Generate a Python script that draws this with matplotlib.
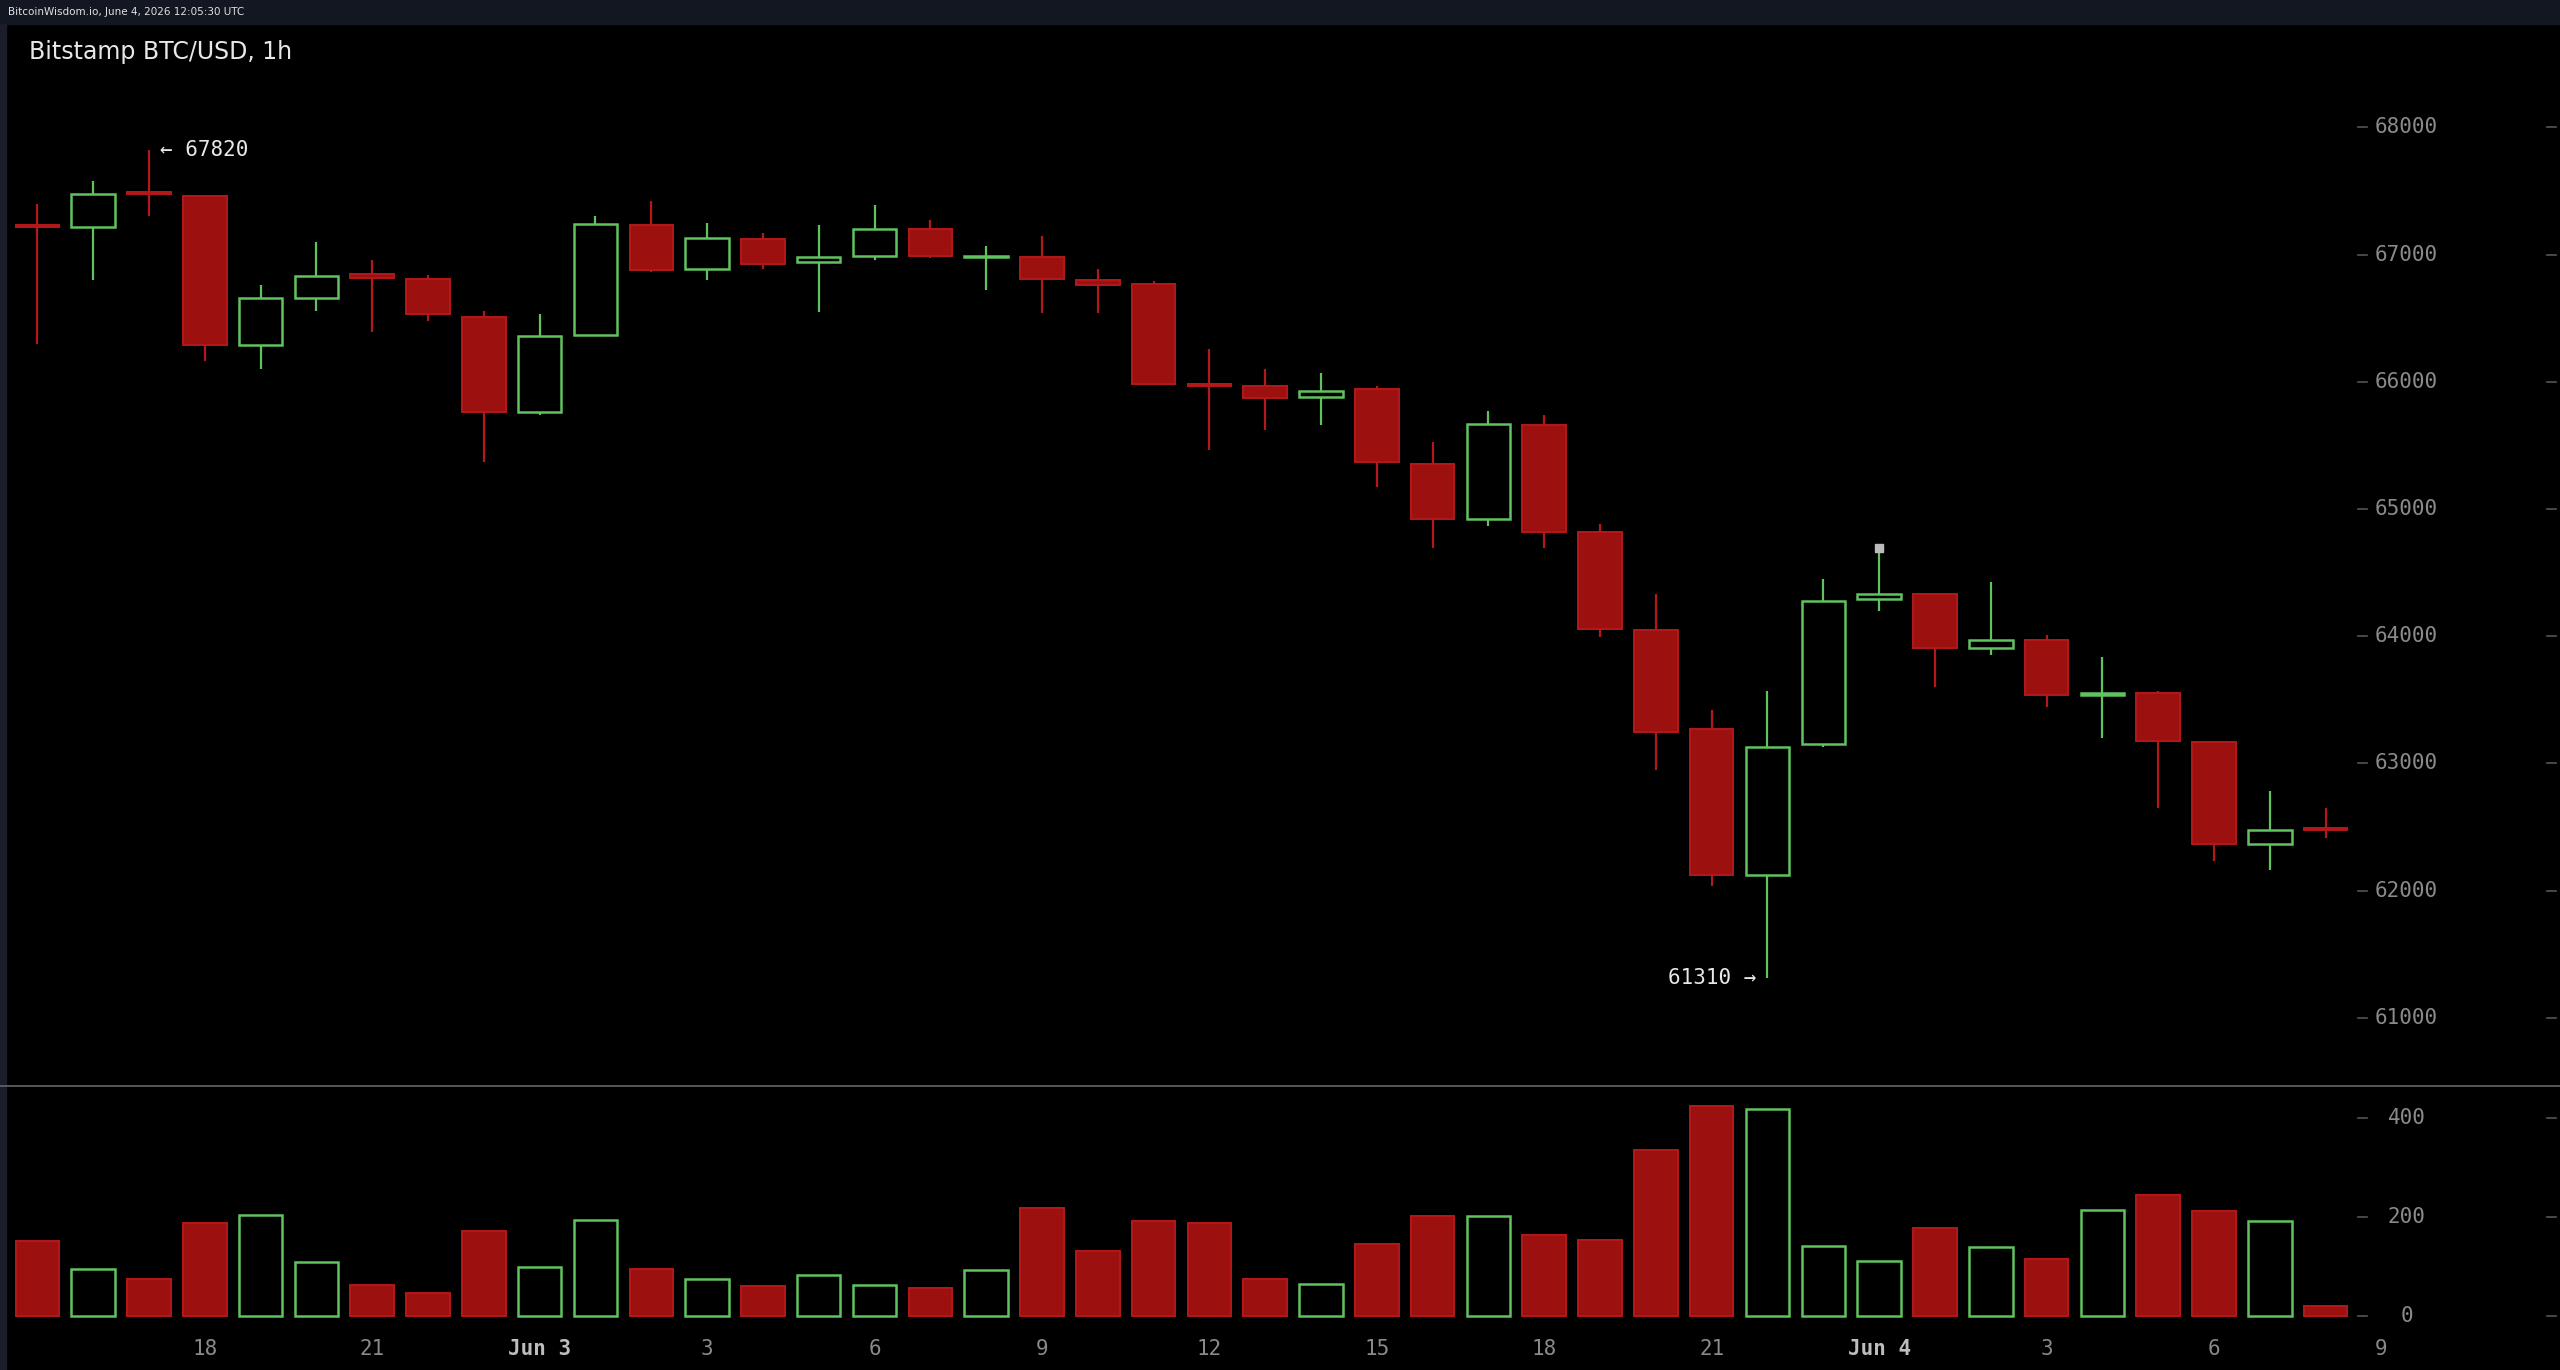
import matplotlib
matplotlib.use("Agg")
import matplotlib.pyplot as plt
from matplotlib.patches import Rectangle

opens  = [67220,67220,67480,67460,66290,66660,66850,66810,66510,65760,66370,67230,66890,67120,66940,66990,67200,66980,66980,66800,
          66770,65970,65970,65880,65940,65350,64920,65660,64820,64050,63270,62120,63150,64290,64330,63910,63970,63540,63550,63170,62370,62480]
closes = [67220,67480,67480,66290,66660,66830,66820,66530,65760,66360,67240,66880,67130,66930,66980,67200,66990,66980,66810,66760,
          65980,65970,65870,65930,65370,64920,65670,64820,64060,63250,62120,63130,64280,64330,63910,63970,63540,63540,63180,62370,62480,62480]
highs  = [67400,67580,67820,67460,66760,67100,66960,66840,66560,66530,67300,67420,67250,67170,67230,67390,67270,67070,67150,66890,
          66790,66260,66100,66070,65970,65530,65770,65740,64880,64330,63420,63570,64450,64690,64330,64430,64010,63840,63570,63170,62780,62650]
lows   = [66300,66800,67300,66160,66100,66560,66390,66480,65370,65740,66360,66860,66800,66890,66550,66960,66970,66720,66540,66540,
          65980,65460,65620,65660,65170,64690,64870,64690,63990,62950,62040,61310,63130,64200,63600,63850,63440,63200,62650,62230,62160,62410]
green  = [0,1,0,0,1,1,0,0,0,1,1,0,1,0,1,1,0,1,0,0,
          0,0,0,1,0,0,1,0,0,0,0,1,1,1,0,1,0,1,0,0,1,0]
volumes = [152,96,76,188,205,109,63,46,172,99,195,96,76,60,83,63,56,93,218,132,
           192,188,76,66,146,202,202,165,155,337,426,420,142,112,178,139,116,215,245,212,192,20]
hour_ticks = [3,6,9,12,15,18,21,24,27,30,33,36,39,42]
hour_labels = ["18","21","Jun 3","3","6","9","12","15","18","21","Jun 4","3","6","9"]
price_ticks = [61000,62000,63000,64000,65000,66000,67000,68000]
vol_ticks = [0,200,400]

fig = plt.figure(figsize=(25.6, 13.7), dpi=100, facecolor="#000000")
MONO = "DejaVu Sans Mono"
RED_F, RED_E, GRN = "#9c1010", "#b51818", "#5fc35f"
XMIN, XMAX = -0.67, 45.2

def fy(py):
    return 1 - py / 839.0

fig.add_artist(Rectangle((0, fy(15)), 1, 1 - fy(15), transform=fig.transFigure, color="#131722", zorder=0))
fig.text(0.003, fy(7.5), "BitcoinWisdom.io, June 4, 2026 12:05:30 UTC", color="#e0e0e0", fontsize=7.5, va="center", ha="left")
fig.add_artist(Rectangle((0, 0), 0.0025, fy(15), transform=fig.transFigure, color="#1a1e2a", zorder=0))

axp = fig.add_axes([0, fy(665), 1, fy(15) - fy(665)])
axv = fig.add_axes([0, 0, 1, fy(665)])
for ax in (axp, axv):
    ax.set_facecolor("#000000")
    ax.set_xlim(XMIN, XMAX)
    ax.axis("off")
axp.set_ylim(60465, 68809)
axv.set_ylim(-109, 466)

bw = 0.78
for i in range(len(opens)):
    o, c, h, l = opens[i], closes[i], highs[i], lows[i]
    col = GRN if green[i] else RED_E
    axp.plot([i, i], [l, h], color=col, lw=1.6, zorder=2, solid_capstyle="butt")
    lo, hi = min(o, c), max(o, c)
    ht = max(hi - lo, 12)
    if green[i]:
        axp.add_patch(Rectangle((i - bw/2, lo), bw, ht, facecolor="#000000", edgecolor=GRN, lw=1.8, zorder=3))
        axv.add_patch(Rectangle((i - bw/2, 0), bw, volumes[i], facecolor="#000000", edgecolor=GRN, lw=1.8, zorder=3))
    else:
        axp.add_patch(Rectangle((i - bw/2, lo), bw, ht, facecolor=RED_F, edgecolor=RED_E, lw=1.4, zorder=3))
        axv.add_patch(Rectangle((i - bw/2, 0), bw, volumes[i], facecolor=RED_F, edgecolor=RED_E, lw=1.4, zorder=3))

imax = highs.index(max(highs)); imin = lows.index(min(lows))
axp.text(imax + 0.2, highs[imax], "← %d" % highs[imax], color="#e8e8e8", fontsize=15, family=MONO, va="center", ha="left")
axp.text(imin - 0.2, lows[imin], "%d →" % lows[imin], color="#e8e8e8", fontsize=15, family=MONO, va="center", ha="right")
axp.plot([33], [highs[33]], marker="s", color="#bbbbbb", ms=6, zorder=4)

axp.text((18 / 1568) * (XMAX - XMIN) + XMIN, 68809 - (17 / 650) * 8344, "Bitstamp BTC/USD, 1h",
         color="#e8e8e8", fontsize=17, va="center", ha="left")

xl = XMIN + (1474 / 1568) * (XMAX - XMIN)
xd1 = XMIN + (1447 / 1568) * (XMAX - XMIN)
xd2 = XMIN + (1563 / 1568) * (XMAX - XMIN)
dl = 0.08
for p in price_ticks:
    axp.text(xl, p, str(p), color="#8a8a8a", fontsize=15, family=MONO, va="center", ha="center")
    for xd in (xd1, xd2):
        axp.plot([xd - dl, xd + dl], [p, p], color="#555555", lw=1.2)
for v in vol_ticks:
    axv.text(xl, v, str(v), color="#8a8a8a", fontsize=15, family=MONO, va="center", ha="center")
    for xd in (xd1, xd2):
        axv.plot([xd - dl, xd + dl], [v, v], color="#555555", lw=1.2)

fig.add_artist(plt.Line2D([0, 1], [fy(665), fy(665)], transform=fig.transFigure, color="#666666", lw=1.2))

for t, lab in zip(hour_ticks, hour_labels):
    bold = lab.startswith("Jun")
    axv.text(t, -66, lab, color="#bdbdbd" if bold else "#8a8a8a", fontsize=15, family=MONO,
             fontweight="bold" if bold else "normal", va="center", ha="center")

fig.savefig("out.png", dpi=100, facecolor=fig.get_facecolor())
